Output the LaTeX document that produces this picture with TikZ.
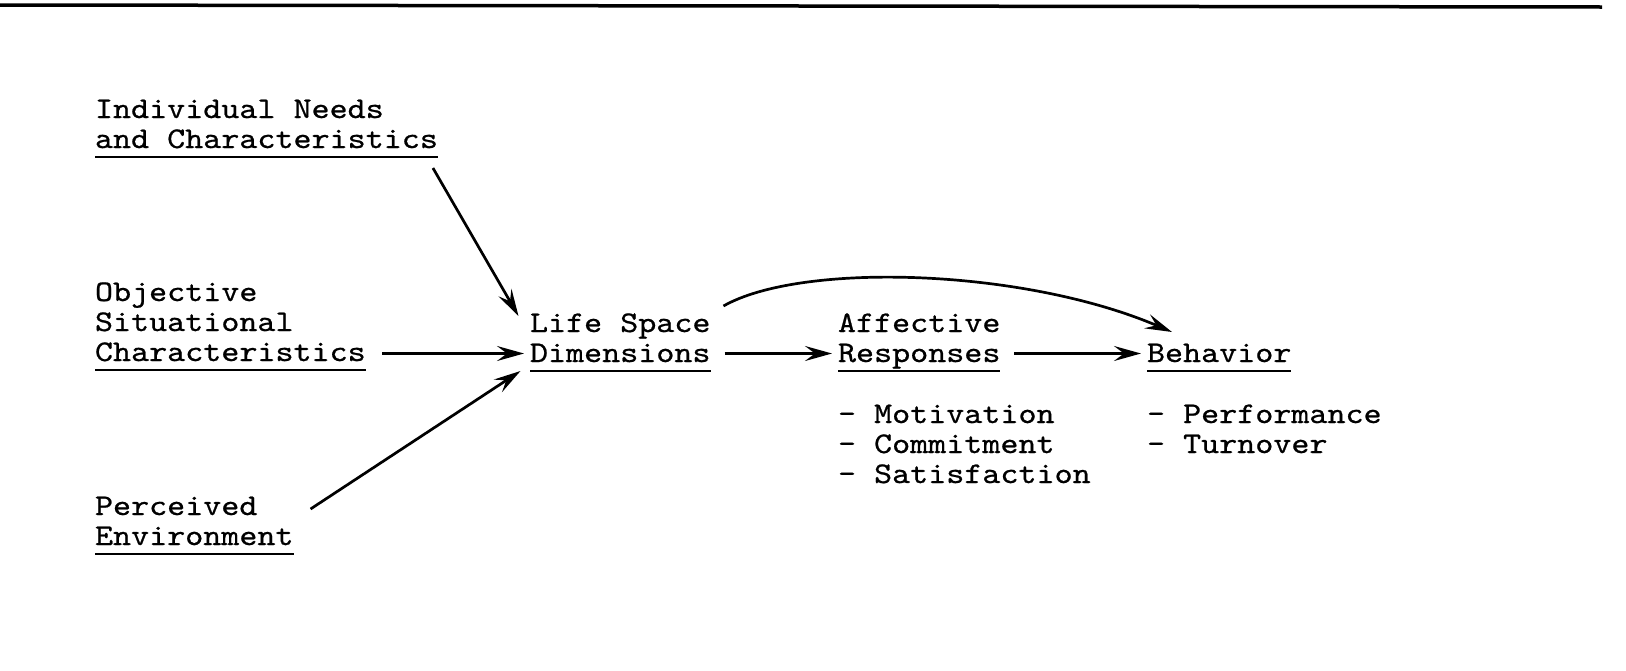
\documentclass[tikz,border=0pt]{standalone}
\usepackage{fontspec}
\newfontfamily\cour[FakeStretch=1.146,FakeBold=0.7]{lmmono10-regular.otf}
\usetikzlibrary{arrows.meta,calc}
\begin{document}
\begin{tikzpicture}[x=1pt,y=-1pt,
  lbl/.style={inner sep=0pt, outer sep=0pt, align=left,
    font=\cour\fontsize{30}{30}\selectfont,
    text height=21pt, text depth=9pt},
  uline/.style={line width=1.6pt},
  conn/.style={line width=2.7pt, -{Stealth[length=27pt,width=15pt,inset=10pt]}},
  rule/.style={line width=3.5pt}]
\useasboundingbox (0,0) rectangle (1626,670);
\coordinate (ruleL) at (0,5);
\coordinate (ruleR) at (1602,7);
\draw[rule] (ruleL) -- (ruleR);

% south anchors sit 9pt below the baseline of each node's last line;
% the "north" anchors sit 21pt above that last baseline
\node[lbl, anchor=south west] (indiv) at (95,157) {Individual Needs\\and Characteristics};
\node[lbl, anchor=south west] (obj) at (95,370) {Objective\\Situational\\Characteristics};
\node[lbl, anchor=south west] (perc) at (95,554) {Perceived\\Environment};
\node[lbl, anchor=south west] (life) at (530,371) {Life Space\\Dimensions};
\node[lbl, anchor=south west] (aff) at (838,371) {Affective\\Responses};
\node[lbl, anchor=south west] (beh) at (1147,371) {Behavior};
\node[lbl, anchor=south west] (afflist) at (838,492) {- Motivation\\- Commitment\\- Satisfaction};
\node[lbl, anchor=south west] (behlist) at (1147,462) {- Performance\\- Turnover};

\foreach \n in {indiv,obj,perc,life,aff,beh}
  \draw[uline] (\n.south west) -- (\n.south east);

\draw[conn] ([xshift=-5pt,yshift=-11pt]indiv.south east) -- ([xshift=-11.5pt,yshift=25pt]life.north west);
\draw[conn] ([xshift=16.5pt,yshift=16.5pt]obj.south east) -- ([xshift=-6pt,yshift=17.5pt]life.south west);
\draw[conn] ([xshift=17pt,yshift=15pt]perc.north east) -- ([xshift=-9.5pt,yshift=0pt]life.south west);
\draw[conn] ([xshift=14pt,yshift=17.5pt]life.south east) -- ([xshift=-6pt,yshift=17.5pt]aff.south west);
\draw[conn] ([xshift=14pt,yshift=17.5pt]aff.south east) -- ([xshift=-6pt,yshift=17.5pt]beh.south west);
\draw[conn] ([xshift=13pt,yshift=35pt]life.north east) .. controls +(77,-44) and +(-150,-64) .. ([xshift=25pt,yshift=9pt]beh.north west);
\end{tikzpicture}
\end{document}
